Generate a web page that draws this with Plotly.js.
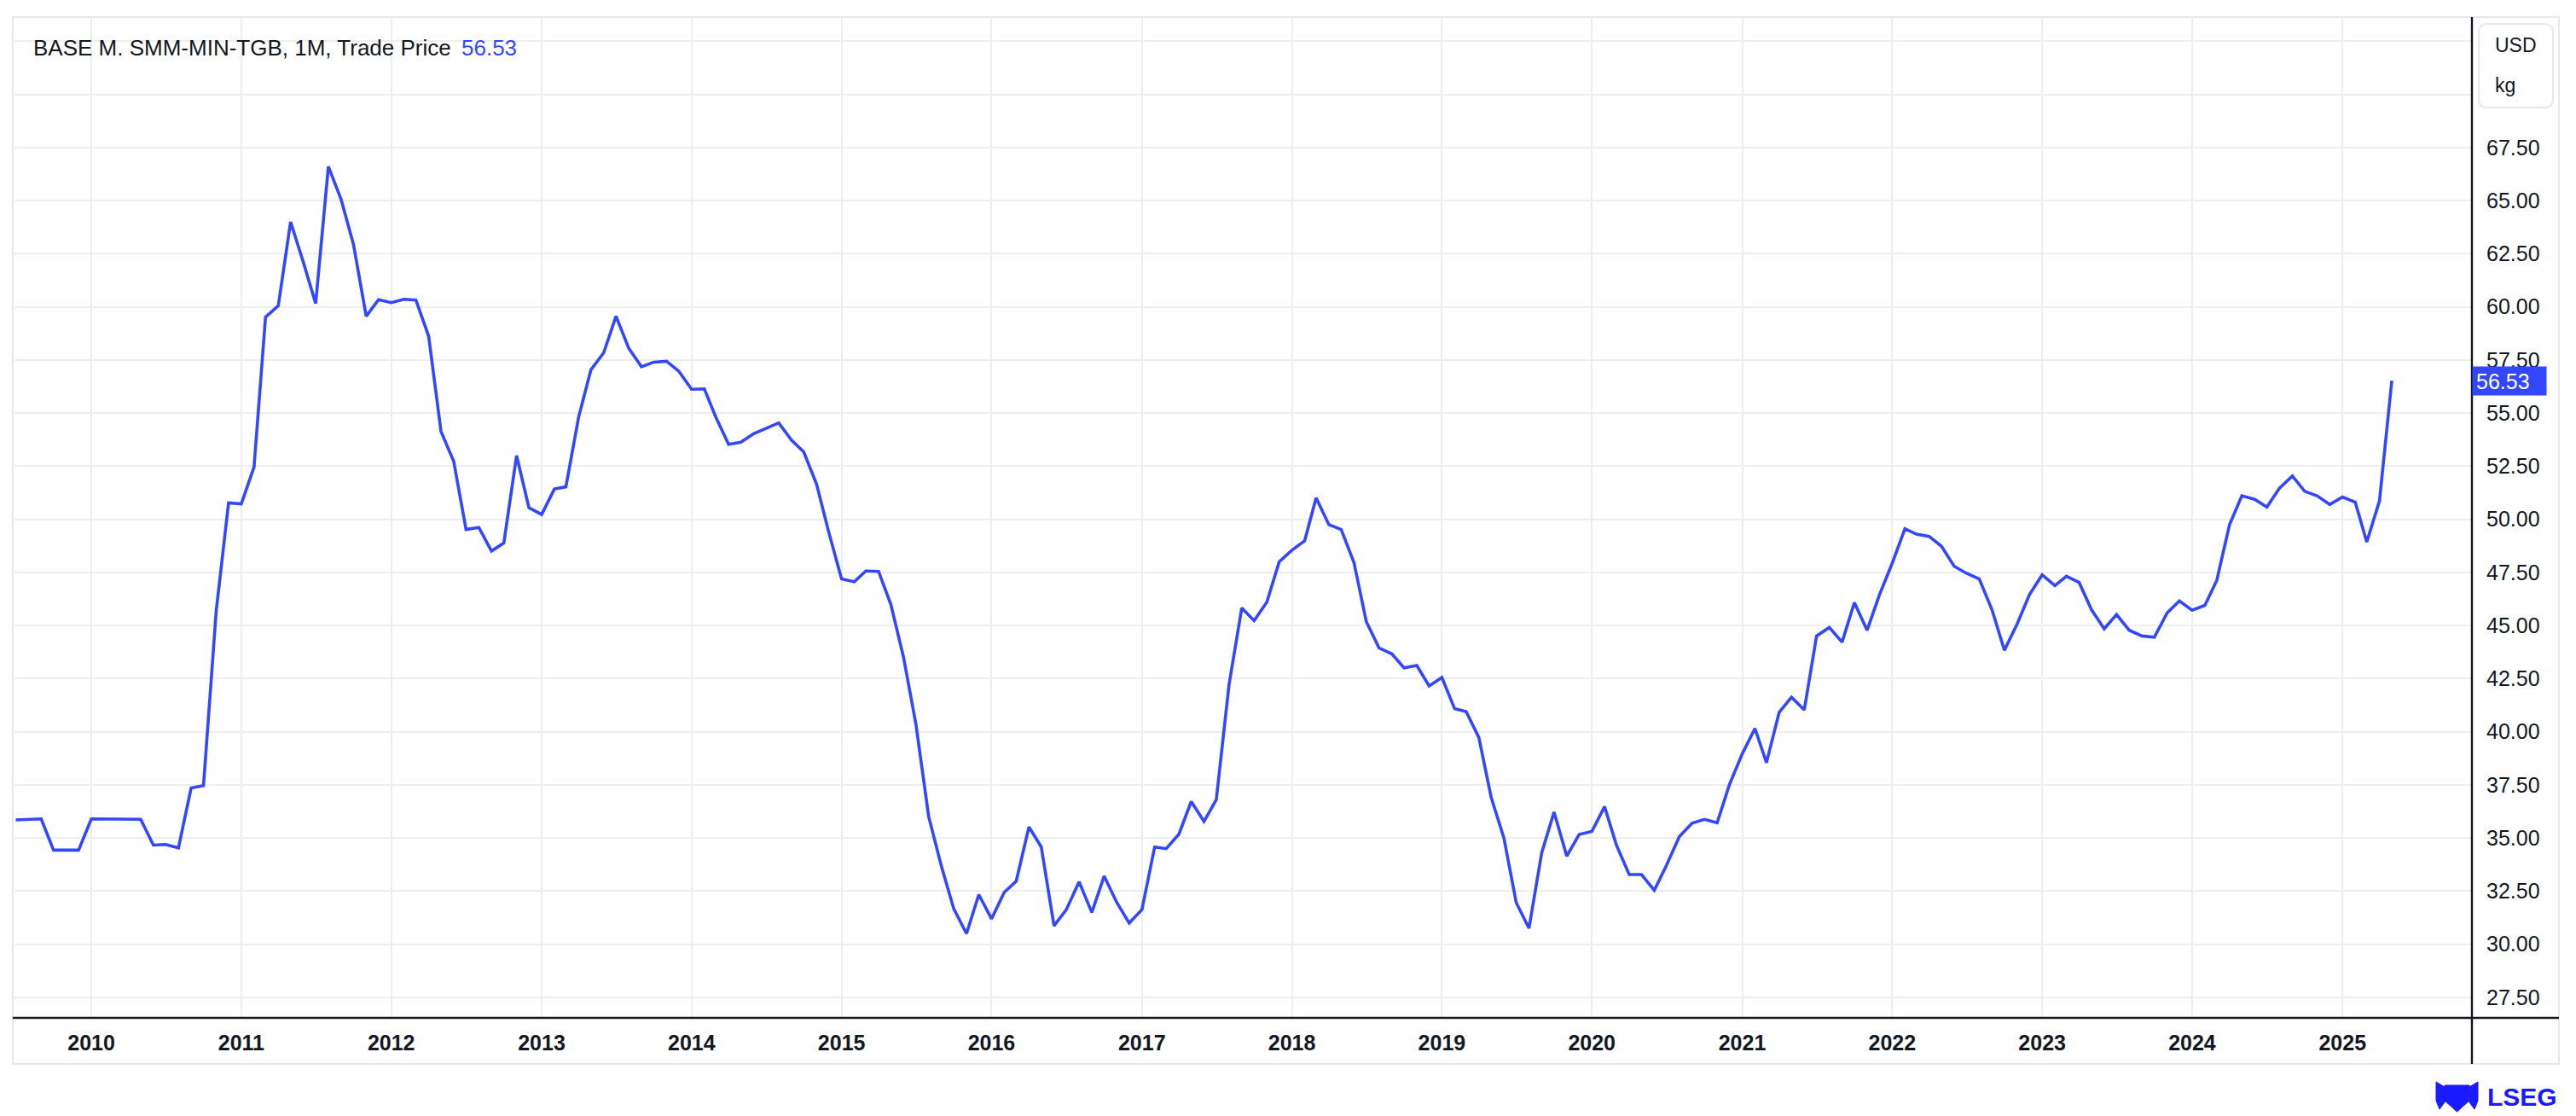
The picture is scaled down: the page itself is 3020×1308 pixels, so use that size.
<!DOCTYPE html>
<html>
<head>
<meta charset="utf-8">
<script src="https://cdn.plot.ly/plotly-3.0.1.min.js"></script>
<style>html,body{margin:0;padding:0;background:#fff;}#chart{width:3020px;height:1308px;}</style>
</head>
<body>
<div id="chart"></div>
<script>
// ---- data (monthly, first value = July 2009) ----
const startYear = 2009;
const startMonth = 7;
const v2009 = [35.85, 35.87, 35.90, 34.43, 34.43, 34.43];
const v2010 = [35.90, 35.90, 35.90, 35.90, 35.88, 34.67, 34.70, 34.54, 37.36, 37.47, 45.70, 50.77];
const v2011 = [50.73, 52.46, 59.52, 60.05, 64.00, 62.10, 60.16, 66.61, 65.05, 62.94, 59.56, 60.34];
const v2012 = [60.20, 60.36, 60.32, 58.62, 54.14, 52.73, 49.52, 49.62, 48.51, 48.89, 53.00, 50.55];
const v2013 = [50.23, 51.43, 51.53, 54.81, 57.04, 57.84, 59.56, 58.05, 57.18, 57.40, 57.44, 56.97];
const v2014 = [56.12, 56.14, 54.81, 53.53, 53.63, 54.03, 54.30, 54.54, 53.73, 53.17, 51.66, 49.38];
const v2015 = [47.20, 47.06, 47.57, 47.55, 45.99, 43.49, 40.35, 36.01, 33.67, 31.67, 30.50, 32.34];
const v2016 = [31.20, 32.45, 32.97, 35.52, 34.58, 30.87, 31.63, 32.94, 31.50, 33.21, 31.96, 31.00];
const v2017 = [31.63, 34.58, 34.50, 35.18, 36.72, 35.78, 36.81, 42.22, 45.83, 45.23, 46.10, 48.00];
const v2018 = [48.55, 48.99, 51.01, 49.75, 49.52, 47.97, 45.19, 43.95, 43.67, 43.01, 43.12, 42.16];
const v2019 = [42.56, 41.09, 40.95, 39.73, 36.91, 35.00, 31.96, 30.75, 34.31, 36.22, 34.15, 35.17];
const v2020 = [35.31, 36.48, 34.66, 33.28, 33.28, 32.54, 33.73, 35.07, 35.70, 35.88, 35.72, 37.52];
const v2021 = [38.96, 40.16, 38.55, 40.92, 41.63, 41.03, 44.51, 44.91, 44.22, 46.08, 44.78, 46.45];
const v2022 = [47.93, 49.56, 49.30, 49.20, 48.73, 47.79, 47.46, 47.19, 45.74, 43.84, 45.07, 46.45];
const v2023 = [47.39, 46.88, 47.32, 47.03, 45.75, 44.85, 45.52, 44.78, 44.51, 44.45, 45.59, 46.16];
const v2024 = [45.72, 45.95, 47.13, 49.74, 51.11, 50.94, 50.58, 51.48, 52.04, 51.32, 51.10, 50.70];
const v2025 = [51.05, 50.81, 48.93, 50.87, 56.53];
const lastPrice = "56.53";
const titleText = "BASE M. SMM-MIN-TGB, 1M, Trade Price";
const unitTop = "USD";
const unitBottom = "kg";
const yTickVals = [27.5, 30, 32.5, 35, 37.5, 40, 42.5, 45, 47.5, 50, 52.5, 55, 57.5, 60, 62.5, 65, 67.5, 70, 72.5];
const yTickText = ["27.50","30.00","32.50","35.00","37.50","40.00","42.50","45.00","47.50","50.00","52.50","55.00","57.50","60.00","62.50","65.00","67.50","",""];

const values = [].concat(v2009, v2010, v2011, v2012, v2013, v2014, v2015, v2016, v2017, v2018, v2019, v2020, v2021, v2022, v2023, v2024, v2025);
const dates = values.map((_, i) => {
  const m = startMonth - 1 + i;
  const y = startYear + Math.floor(m / 12);
  const mm = (m % 12) + 1;
  return y + "-" + (mm < 10 ? "0" + mm : mm) + "-01";
});

// ---- layout geometry ----
const W = 3020, H = 1308;
const L = 17, R = 122, T = 20, B = 115;
const PW = W - L - R, PH = H - T - B;
const px = p => (p - L) / PW;
const py = p => (H - B - p) / PH;

const BLUE = "#3347ff";
const FONT = "Liberation Sans, Arial, sans-serif";

const trace = {
  x: dates, y: values, type: "scatter", mode: "lines",
  line: {color: BLUE, width: 3.6}, hoverinfo: "skip"
};

// rounded box path for unit label
function roundRect(x0, y0, x1, y1, r) {
  const X0 = px(x0), X1 = px(x1), Y0 = py(y0), Y1 = py(y1);
  const rx = r / PW, ry = r / PH;
  return `M${X0 + rx},${Y0} L${X1 - rx},${Y0} Q${X1},${Y0} ${X1},${Y0 - ry} L${X1},${Y1 + ry} Q${X1},${Y1} ${X1 - rx},${Y1} L${X0 + rx},${Y1} Q${X0},${Y1} ${X0},${Y1 + ry} L${X0},${Y0 - ry} Q${X0},${Y0} ${X0 + rx},${Y0} Z`;
}
function crestPath() {
  // simple shield emblem approximation
  const pts = [[2866,1272],[2895,1272],[2895,1290],[2880.5,1303],[2866,1290]];
  return "M" + pts.map(p => px(p[0]) + "," + py(p[1])).join(" L") + " Z";
}
function wingPath(xs) {
  const pts = xs.map(p => px(p[0]) + "," + py(p[1]));
  return "M" + pts.join(" L") + " Z";
}

const layout = {
  width: W, height: H,
  margin: {l: L, r: R, t: T, b: B, pad: 0},
  paper_bgcolor: "#ffffff", plot_bgcolor: "#ffffff",
  showlegend: false,
  hovermode: false,
  font: {family: FONT, color: "#131722"},
  xaxis: {
    type: "date",
    range: ["2009-06-28", "2025-11-12"],
    tick0: "2010-01-01", dtick: "M12", tickformat: "%Y",
    showgrid: true, gridcolor: "#eeeef2", gridwidth: 2,
    zeroline: false, showline: false,
    ticks: "", ticklabelstandoff: 12,
    tickfont: {family: FONT, size: 25, color: "#131722", weight: "bold"},
    fixedrange: true
  },
  yaxis: {
    side: "right",
    range: [26.536, 73.64],
    tickmode: "array", tickvals: yTickVals, ticktext: yTickText,
    showgrid: true, gridcolor: "#eeeef2", gridwidth: 2,
    zeroline: false, showline: false,
    ticks: "", ticklabelstandoff: 16,
    tickfont: {family: FONT, size: 25, color: "#131722"},
    fixedrange: true
  },
  shapes: [
    {type: "rect", xref: "paper", yref: "paper", x0: px(15), x1: px(3000), y0: py(1247), y1: py(20),
     line: {color: "#e6e8ee", width: 2}, fillcolor: "rgba(0,0,0,0)", layer: "below"},
    {type: "line", xref: "paper", yref: "paper", x0: px(15), x1: px(3000), y0: 0, y1: 0,
     line: {color: "#131722", width: 2.4}},
    {type: "line", xref: "paper", yref: "paper", x0: 1, x1: 1, y0: py(1247), y1: 1,
     line: {color: "#131722", width: 2.4}},
    {type: "path", xref: "paper", yref: "paper", path: roundRect(2906, 28, 2993, 126, 10),
     line: {color: "#e6e8ee", width: 2}, fillcolor: "#ffffff"},
    {type: "path", xref: "paper", yref: "paper", path: crestPath(),
     line: {color: "#1a1aff", width: 1}, fillcolor: "#1a1aff"},
    {type: "path", xref: "paper", yref: "paper",
     path: wingPath([[2856,1268],[2866,1274],[2866,1292],[2860,1300],[2856,1290]]),
     line: {color: "#1a1aff", width: 1}, fillcolor: "#1a1aff"},
    {type: "path", xref: "paper", yref: "paper",
     path: wingPath([[2905,1268],[2895,1274],[2895,1292],[2901,1300],[2905,1290]]),
     line: {color: "#1a1aff", width: 1}, fillcolor: "#1a1aff"}
  ],
  annotations: [
    {xref: "paper", yref: "paper", x: px(37), y: py(56), xanchor: "left", yanchor: "middle",
     text: titleText, showarrow: false, font: {family: FONT, size: 26, color: "#131722"}},
    {xref: "paper", yref: "paper", x: px(539), y: py(56), xanchor: "left", yanchor: "middle",
     text: lastPrice, showarrow: false, font: {family: FONT, size: 26, color: BLUE}},
    {xref: "paper", yref: "paper", x: px(2923), y: py(53), xanchor: "left", yanchor: "middle",
     text: unitTop, showarrow: false, font: {family: FONT, size: 23, color: "#131722"}},
    {xref: "paper", yref: "paper", x: px(2923), y: py(100), xanchor: "left", yanchor: "middle",
     text: unitBottom, showarrow: false, font: {family: FONT, size: 23, color: "#131722"}},
    {xref: "paper", yref: "y", x: 1, y: values[values.length - 1], xanchor: "left", yanchor: "middle",
     text: lastPrice, showarrow: false, bgcolor: BLUE, borderpad: 4, width: 78, height: 25, align: "left",
     font: {family: FONT, size: 25, color: "#ffffff"}},
    {xref: "paper", yref: "paper", x: px(3000), y: py(1285), xanchor: "right", yanchor: "middle",
     text: "<b>LSEG</b>", showarrow: false, font: {family: FONT, size: 30, color: "#1a1aff"}}
  ]
};

Plotly.newPlot("chart", [trace], layout, {displayModeBar: false, staticPlot: true});
</script>
</body>
</html>
